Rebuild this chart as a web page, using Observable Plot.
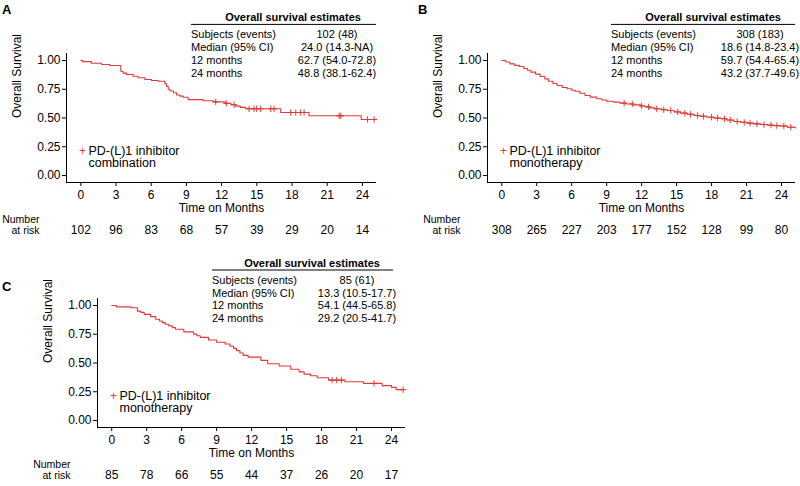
<!DOCTYPE html>
<html><head><meta charset="utf-8">
<script src="https://cdn.jsdelivr.net/npm/d3@7"></script>
<script src="https://cdn.jsdelivr.net/npm/@observablehq/plot@0.6"></script>
<style>
body{margin:0;background:#fff;}
#wrap{position:relative;width:800px;height:486px;overflow:hidden;font-family:"Liberation Sans",Arial,sans-serif;}
#wrap svg{position:absolute;}
</style></head><body><div id="wrap"></div>
<script>
const monthTicks = [0, 3, 6, 9, 12, 15, 18, 21, 24];
const survTicks = [0, 0.25, 0.5, 0.75, 1];
const panelLetters = ["A", "B", "C"];
const tableTitle = "Overall survival estimates";
const statLabels = ["Subjects (events)", "Median (95% CI)", "12 months", "24 months"];
const riskLabel = ["Number", "at risk"];

// Panel A: PD-(L)1 inhibitor combination
const legendA = ["PD-(L)1 inhibitor", "combination"];
const timeA = [0, 0.15, 0.9, 1.77, 2.47, 3.41, 3.61, 3.89, 4.46, 4.89, 5.46, 6.03, 6.6, 7.17, 7.3, 7.45, 7.6, 7.9, 8.16, 8.45, 8.73, 9.15, 10.43, 11.28, 12.3, 12.8, 13.2, 13.6, 14.05, 17.04, 19.45, 23.9, 25.1];
const survA = [1, 0.99, 0.976, 0.965, 0.957, 0.907, 0.89, 0.878, 0.863, 0.85, 0.835, 0.826, 0.82, 0.797, 0.775, 0.75, 0.735, 0.72, 0.70, 0.69, 0.68, 0.66, 0.65, 0.64, 0.627, 0.615, 0.603, 0.592, 0.58, 0.548, 0.519, 0.487, 0.487];
const censorA = [11.5, 12.4, 13.06, 14.34, 14.76, 14.99, 15.33, 16.19, 16.47, 17.89, 18.32, 18.74, 19.03, 22.02, 22.16, 24.44, 25.0];
const riskA = [102, 96, 83, 68, 57, 39, 29, 20, 14];
const statsA = ["102 (48)", "24.0 (14.3-NA)", "62.7 (54.0-72.8)", "48.8 (38.1-62.4)"];

// Panel B: PD-(L)1 inhibitor monotherapy
const legendB = ["PD-(L)1 inhibitor", "monotherapy"];
const timeB = [0, 0.35, 0.7, 1.1, 1.5, 1.9, 2.2, 2.5, 2.9, 3.3, 3.7, 4.0, 4.4, 4.75, 5.2, 5.6, 6.0, 6.3, 6.7, 7.15, 7.6, 8.15, 8.6, 9.0, 9.6, 10.15, 10.7, 11.3, 11.9, 12.3, 12.7, 13.1, 13.7, 14.2, 14.8, 15.35, 15.9, 16.5, 17.0, 17.6, 18.2, 18.8, 19.3, 19.9, 20.5, 21.05, 21.6, 22.2, 22.8, 23.3, 23.9, 24.5, 25.2];
const survB = [1, 0.987, 0.971, 0.958, 0.948, 0.93, 0.915, 0.899, 0.882, 0.861, 0.84, 0.82, 0.80, 0.783, 0.765, 0.754, 0.742, 0.733, 0.715, 0.696, 0.682, 0.667, 0.656, 0.646, 0.638, 0.629, 0.622, 0.614, 0.605, 0.597, 0.588, 0.58, 0.572, 0.565, 0.553, 0.542, 0.532, 0.522, 0.515, 0.507, 0.5, 0.493, 0.482, 0.47, 0.462, 0.455, 0.449, 0.443, 0.438, 0.434, 0.43, 0.42, 0.414];
const censorB = [10.5, 11.2, 12.0, 12.6, 13.3, 13.9, 14.5, 15.1, 15.7, 16.2, 16.8, 17.3, 18.0, 18.5, 19.1, 19.6, 20.2, 20.8, 21.3, 21.9, 22.5, 23.1, 23.6, 24.2, 24.8];
const riskB = [308, 265, 227, 203, 177, 152, 128, 99, 80];
const statsB = ["308 (183)", "18.6 (14.8-23.4)", "59.7 (54.4-65.4)", "43.2 (37.7-49.6)"];

// Panel C: PD-(L)1 inhibitor monotherapy
const legendC = ["PD-(L)1 inhibitor", "monotherapy"];
const timeC = [0, 0.4, 1.64, 2.2, 2.5, 2.78, 3.34, 3.77, 4.1, 4.34, 4.6, 4.9, 5.2, 5.47, 6.18, 7.03, 7.3, 7.6, 8.3, 9.0, 9.73, 10.15, 10.45, 10.7, 11.0, 11.28, 11.7, 12.8, 13.38, 14.37, 15.36, 16.07, 16.5, 17.06, 17.63, 18.6, 20.0, 21.6, 23.2, 24.0, 24.4, 25.0];
const survC = [1, 0.988, 0.98, 0.951, 0.94, 0.923, 0.903, 0.88, 0.865, 0.851, 0.837, 0.823, 0.808, 0.794, 0.771, 0.751, 0.737, 0.723, 0.70, 0.68, 0.665, 0.646, 0.627, 0.608, 0.587, 0.566, 0.551, 0.523, 0.494, 0.474, 0.445, 0.423, 0.403, 0.389, 0.372, 0.351, 0.337, 0.323, 0.303, 0.288, 0.268, 0.268];
const censorC = [18.9, 19.3, 19.7, 22.5, 25.0];
const riskC = [85, 78, 66, 55, 44, 37, 26, 20, 17];
const statsC = ["85 (61)", "13.3 (10.5-17.7)", "54.1 (44.5-65.8)", "29.2 (20.5-41.7)"];

const RED = "#e03a34";
const FONT = '"Liberation Sans", Arial, Helvetica, sans-serif';
const xDomain = [-1.22, 25.2];
const yDomain = [-0.061, 1.061];

function stepAt(times, surv, t) {
  let v = surv[0];
  for (let i = 0; i < times.length; i++) if (times[i] <= t) v = surv[i];
  return v;
}

const wrap = document.getElementById("wrap");

function drawPanel(cfg) {
  const curve = cfg.times.map((t, i) => ({t, s: cfg.surv[i]}));
  const cens = cfg.censors.map(t => ({t, s: stepAt(cfg.times, cfg.surv, t)}));
  const chart = Plot.plot({
    width: cfg.width, height: 243,
    marginLeft: cfg.ml, marginRight: cfg.mr, marginTop: cfg.mt, marginBottom: cfg.mb,
    style: {fontFamily: FONT, fontSize: "12px", color: "#000", background: "transparent", overflow: "visible"},
    x: {domain: xDomain, ticks: monthTicks, tickSize: 4, tickPadding: 4, label: null},
    y: {domain: yDomain, ticks: survTicks, tickFormat: d3.format(".2f"), tickSize: 4, tickPadding: 2, label: null},
    marks: [
      Plot.ruleX([xDomain[0]], {stroke: "#000", strokeWidth: 1}),
      Plot.ruleY([yDomain[0]], {stroke: "#000", strokeWidth: 1}),
      Plot.line(curve, {x: "t", y: "s", curve: "step-after", stroke: RED, strokeWidth: 1.1}),
      Plot.dot(cens, {x: "t", y: "s", symbol: "plus", r: 2.2, stroke: RED, strokeWidth: 1}),
      Plot.text(["+"], {frameAnchor: "bottom-left", dx: 12.5, dy: -28, fill: RED, fontSize: 12}),
      Plot.text([cfg.legend[0]], {frameAnchor: "bottom-left", dx: 22, dy: -28, textAnchor: "start", fontSize: 12.5}),
      Plot.text([cfg.legend[1]], {frameAnchor: "bottom-left", dx: 22, dy: -15.2, textAnchor: "start", fontSize: 12.5}),
      Plot.text(["Time on Months"], {frameAnchor: "bottom", dy: 29.7, fontSize: 12}),
      Plot.text(["Overall Survival"], {frameAnchor: "left", dx: -49, rotate: -90, fontSize: 12}),
      Plot.text(monthTicks, {x: d => d, text: (d, i) => String(cfg.risk[i]), frameAnchor: "bottom", dy: 51, fontSize: 12}),
      Plot.text([riskLabel[0]], {frameAnchor: "bottom-left", dx: -27, dy: 40.5, textAnchor: "end", fontSize: 10.5}),
      Plot.text([riskLabel[1]], {frameAnchor: "bottom-left", dx: -27, dy: 51, textAnchor: "end", fontSize: 10.5})
    ]
  });
  chart.style.left = cfg.left + "px";
  chart.style.top = cfg.top + "px";
  wrap.appendChild(chart);
}

drawPanel({times: timeA, surv: survA, censors: censorA, risk: riskA, legend: legendA,
  left: 0, top: 0, width: 400, ml: 66, mr: 24, mt: 53, mb: 61});
drawPanel({times: timeB, surv: survB, censors: censorB, risk: riskB, legend: legendB,
  left: 400, top: 0, width: 400, ml: 87, mr: 5, mt: 53, mb: 61});
drawPanel({times: timeC, surv: survC, censors: censorC, risk: riskC, legend: legendC,
  left: 0, top: 243, width: 420, ml: 97, mr: 15, mt: 55, mb: 59});

// Overlay: panel letters and estimate tables
const ov = d3.select(wrap).append("svg").attr("width", 800).attr("height", 486)
  .style("left", "0px").style("top", "0px").style("font-family", FONT);

const letterPos = [[2, 9], [418, 9], [2, 286]];
panelLetters.forEach((L, i) => {
  ov.append("text").attr("x", letterPos[i][0]).attr("y", letterPos[i][1])
    .attr("dominant-baseline", "central").attr("font-size", 13).attr("font-weight", "bold").text(L);
});

const tables = [
  {stats: statsA, left: 191, right: 376, titleX: 293, valX: 337, top: 34.4},
  {stats: statsB, left: 611, right: 795, titleX: 713, valX: 760, top: 34.4},
  {stats: statsC, left: 212, right: 393, titleX: 312, valX: 357, top: 280}
];
tables.forEach(tb => {
  ov.append("text").attr("x", tb.titleX).attr("y", tb.top - 17.3).attr("text-anchor", "middle")
    .attr("dominant-baseline", "central").attr("font-size", 11).attr("font-weight", "bold").text(tableTitle);
  ov.append("line").attr("x1", tb.left).attr("x2", tb.right).attr("y1", tb.top - 10).attr("y2", tb.top - 10)
    .attr("stroke", "#000").attr("stroke-width", 1);
  statLabels.forEach((lab, i) => {
    const y = tb.top + i * 12.7;
    ov.append("text").attr("x", tb.left).attr("y", y).attr("dominant-baseline", "central")
      .attr("font-size", 11).text(lab);
    ov.append("text").attr("x", tb.valX).attr("y", y).attr("text-anchor", "middle").attr("dominant-baseline", "central")
      .attr("font-size", 11).text(tb.stats[i]);
  });
});
</script></body></html>
